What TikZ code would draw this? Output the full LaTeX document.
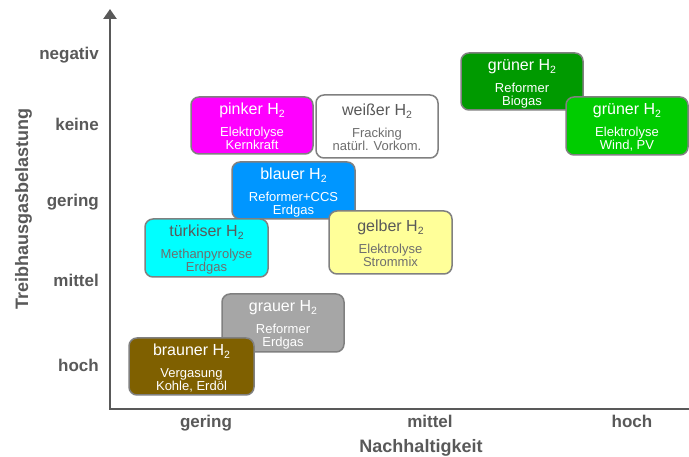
\documentclass[tikz,border=0pt]{standalone}
\usepackage{fontspec}
\setmainfont{Liberation Sans}
\usetikzlibrary{arrows.meta,calc,fit}

\definecolor{achse}{HTML}{595959}
\definecolor{rahmen}{HTML}{808080}
\definecolor{schrift}{HTML}{595959}
\definecolor{schrifthell}{HTML}{6E6E6E}
\definecolor{hpink}{HTML}{FF00FF}
\definecolor{hweiss}{HTML}{FFFFFF}
\definecolor{hblau}{HTML}{0096FF}
\definecolor{htuerkis}{HTML}{00FFFF}
\definecolor{hgelb}{HTML}{FFFF99}
\definecolor{hgrau}{HTML}{A6A6A6}
\definecolor{hbraun}{HTML}{7F6000}
\definecolor{hgruenA}{HTML}{009A00}
\definecolor{hgruenB}{HTML}{00CC00}

\newcommand{\tiefzwei}{\raisebox{-3pt}{\fontsize{10.5}{12}\selectfont 2}}

\tikzset{
  kasten/.style={draw=rahmen, line width=1.5pt, rounded corners=8pt, inner sep=0pt},
  titel/.style={anchor=base, inner sep=0pt, font=\fontsize{16}{19}\selectfont},
  zeile/.style={anchor=base, inner sep=0pt, font=\fontsize{13}{15}\selectfont},
  dunkel titel/.style={text=white},
  dunkel zeile/.style={text=white},
  hell titel/.style={text=schrift},
  hell zeile/.style={text=schrifthell},
  skala/.style={font=\bfseries\fontsize{17}{20}\selectfont, text=achse, inner sep=0pt},
  achsentitel/.style={font=\bfseries\fontsize{18}{22}\selectfont, text=achse, inner sep=0pt},
  achsenlinie/.style={draw=achse, line width=2.5pt, line join=miter},
}

% #1 name, #2 (left,top), #3 (right,bottom), #4 fill, #5 text style,
% #6 title, #7 first line, #8 second line
\newcommand{\hkasten}[8]{%
  \node[kasten, fill=#4, fit={#2 #3}] (#1) {};
  \node[titel, #5 titel] (#1-titel) at ($(#1.center)+(0,-11)$) {#6 H\tiefzwei};
  \node[zeile, #5 zeile] (#1-a) at ($(#1.center)+(0,11)$) {#7};
  \node[zeile, #5 zeile] (#1-b) at ($(#1.center)+(0,24)$) {#8};
}

\begin{document}
\begin{tikzpicture}[x=1pt, y=-1pt]
  \useasboundingbox (0,0) rectangle (689,457);
  \fill[white] (0,0) rectangle (689,457);

  % axes
  \coordinate (yspitze) at (110,9);
  \coordinate (ursprung) at (110,409);
  \coordinate (xende) at (692,409);
  \draw[achsenlinie, {Triangle[width=13pt,length=10pt]}-] (yspitze) -- (ursprung) -- (xende);

  % scale of the vertical axis
  \node[skala, anchor=base east] (y-negativ) at (99,60) {negativ};
  \node[skala, anchor=base east] (y-keine) at (99,131) {keine};
  \node[skala, anchor=base east] (y-gering) at (99,207) {gering};
  \node[skala, anchor=base east] (y-mittel) at (99,287) {mittel};
  \node[skala, anchor=base east] (y-hoch) at (99,372) {hoch};
  \node[achsentitel, anchor=base, rotate=90] (y-titel) at (28,209) {Treibhausgasbelastung};

  % scale of the horizontal axis
  \node[skala, anchor=base] (x-gering) at (206,428) {gering};
  \node[skala, anchor=base] (x-mittel) at (430,428) {mittel};
  \node[skala, anchor=base] (x-hoch) at (632,428) {hoch};
  \node[achsentitel, anchor=base] (x-titel) at (421,453) {Nachhaltigkeit};

  % hydrogen colours
  \hkasten{gruenbio}{(461,53)}{(583,110)}{hgruenA}{dunkel}{grüner}{Reformer}{Biogas}
  \hkasten{gruenel}{(566,97)}{(688,155)}{hgruenB}{dunkel}{grüner}{Elektrolyse}{Wind, PV}
  \hkasten{pink}{(191,97)}{(313,154)}{hpink}{dunkel}{pinker}{Elektrolyse}{Kernkraft}
  \hkasten{weiss}{(316,95)}{(438,158)}{hweiss}{hell}{weißer}{Fracking}{natürl. Vorkom.}
  \hkasten{blau}{(232,162)}{(355,219)}{hblau}{dunkel}{blauer}{Reformer+CCS}{Erdgas}
  \hkasten{tuerkis}{(145,219)}{(268,277)}{htuerkis}{hell}{türkiser}{Methanpyrolyse}{Erdgas}
  \hkasten{gelb}{(329,211)}{(452,274)}{hgelb}{hell}{gelber}{Elektrolyse}{Strommix}
  \hkasten{grau}{(222,294)}{(344,352)}{hgrau}{dunkel}{grauer}{Reformer}{Erdgas}
  \hkasten{braun}{(129,338)}{(254,395)}{hbraun}{dunkel}{brauner}{Vergasung}{Kohle, Erdöl}
\end{tikzpicture}
\end{document}
